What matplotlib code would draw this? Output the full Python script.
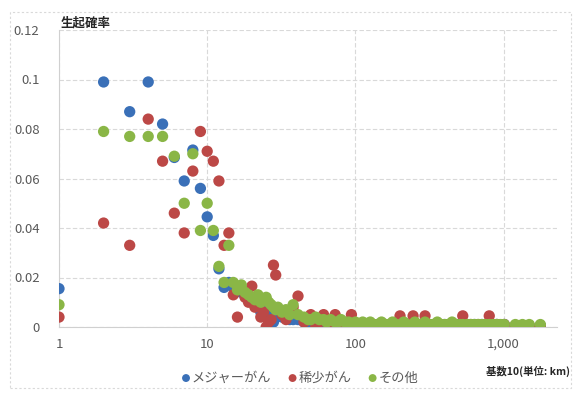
import matplotlib
matplotlib.use("Agg")
from matplotlib import pyplot as plt
from matplotlib.patches import Rectangle
from matplotlib.ticker import FixedLocator, FuncFormatter, NullLocator

plt.rcParams['font.family'] = ['Noto Sans CJK JP', 'DejaVu Sans']

# distance (unit: 10 km) for the first points, one per step
head_x = [1, 2, 3, 4, 5, 6, 7, 8, 9, 10, 11, 12, 13, 14]
# distances for the long tail
tail_x = [15, 16, 17, 18, 19, 20, 21, 22, 23, 24, 25, 26, 27, 28, 29, 30,
          32, 34, 36, 38, 41, 45, 48, 50, 54, 57, 61, 64, 68, 73, 76, 80,
          85, 90, 94, 100, 106, 112, 119, 126, 133, 141, 150, 159, 168, 178,
          189, 200, 212, 224, 245, 252, 267, 283, 295, 318, 337, 357, 378,
          400, 424, 449, 476, 504, 530, 566, 600, 636, 674, 714, 756, 800,
          849, 900, 953, 1010, 1200, 1340, 1490, 1770]

major_head = [0.0155, 0.099, 0.087, 0.099, 0.082, 0.0685, 0.059, 0.0715,
              0.056, 0.0445, 0.037, 0.0235, 0.016, 0.018]
major_tail = [0.016, 0.015, 0.014, 0.013, 0.012, 0.011, 0.010, 0.009, 0.006,
              0.008, 0.007, 0.006, 0.006, 0.002, 0.004, 0.005, 0.004, 0.004,
              0.003, 0.003, 0.003, 0.002, 0.002, 0.002, 0.002, 0.002, 0.001,
              0.001, 0.002, 0.001, 0.001, 0.001, 0.001, 0.001, 0.001, 0.001,
              0.0005, 0.001, 0.0005, 0.001, 0.0005, 0.001, 0.0005, 0.001,
              0.0005, 0.001, 0.0005, 0.001, 0.0005, 0.001, 0.0005, 0.001,
              0.0005, 0.001, 0.0005, 0.001, 0.0005, 0.001, 0.0005, 0.001,
              0.0005, 0.001, 0.0005, 0.001, 0.0005, 0.001, 0.0005, 0.001,
              0.0005, 0.001, 0.0005, 0.001, 0.0005, 0.001, 0.0005, 0.001,
              0.0005, 0.0005, 0.0005, 0.0005]

rare_head = [0.004, 0.042, 0.033, 0.084, 0.067, 0.046, 0.038, 0.063,
             0.079, 0.071, 0.067, 0.059, 0.033, 0.038]
rare_tail = [0.013, 0.004, 0.015, 0.012, 0.010, 0.0165, 0.008, 0.010, 0.004,
             0.006, 0.000, 0.002, 0.003, 0.025, 0.021, 0.007, 0.005, 0.003,
             0.006, 0.008, 0.0125, 0.002, 0.003, 0.005, 0.000, 0.002, 0.005,
             0.002, 0.001, 0.005, 0.001, 0.002, 0.000, 0.001, 0.005, 0.001,
             0.000, 0.001, 0.000, 0.001, 0.000, 0.001, 0.000, 0.001, 0.000,
             0.001, 0.000, 0.0045, 0.001, 0.000, 0.0045, 0.001, 0.000, 0.001,
             0.0045, 0.000, 0.001, 0.000, 0.001, 0.000, 0.001, 0.000, 0.001,
             0.000, 0.0045, 0.000, 0.001, 0.000, 0.001, 0.000, 0.001, 0.0045,
             0.000, 0.001, 0.000, 0.001, 0.0005, 0.0005, 0.0005, 0.0005]

other_head = [0.009, 0.079, 0.077, 0.077, 0.077, 0.069, 0.050, 0.070,
              0.039, 0.050, 0.039, 0.0245, 0.018, 0.033]
other_tail = [0.018, 0.015, 0.017, 0.014, 0.013, 0.012, 0.011, 0.013, 0.010,
              0.011, 0.012, 0.010, 0.009, 0.008, 0.007, 0.008, 0.006, 0.007,
              0.005, 0.009, 0.005, 0.004, 0.003, 0.003, 0.004, 0.003, 0.003,
              0.002, 0.003, 0.002, 0.002, 0.003, 0.002, 0.002, 0.001, 0.002,
              0.001, 0.002, 0.001, 0.002, 0.001, 0.001, 0.002, 0.001, 0.001,
              0.002, 0.001, 0.001, 0.002, 0.001, 0.001, 0.002, 0.001, 0.001,
              0.002, 0.001, 0.001, 0.002, 0.001, 0.001, 0.001, 0.002, 0.001,
              0.001, 0.001, 0.001, 0.001, 0.001, 0.001, 0.001, 0.001, 0.001,
              0.001, 0.001, 0.001, 0.001, 0.001, 0.001, 0.001, 0.001]

series_names = ["メジャーがん", "稀少がん", "その他"]
series_colors = ["#3A70B8", "#BC4846", "#8AB646"]

x_ticks = [1, 10, 100, 1000]
y_ticks = [0, 0.02, 0.04, 0.06, 0.08, 0.1, 0.12]


def tick_text(v, pos=None):
    if v == 0:
        return "0"
    return f"{v:g}"


fig = plt.figure(figsize=(5.76, 4.0), dpi=100)
ax = fig.add_axes([0.1024, 0.1825, 0.8650, 0.7425])

x_all = head_x + tail_x
for name, color, yh, yt in zip(series_names, series_colors,
                               [major_head, rare_head, other_head],
                               [major_tail, rare_tail, other_tail]):
    ax.scatter(x_all, yh + yt, s=66, c=color, label=name,
               edgecolors='none', zorder=3)

ax.set_xscale('log')
ax.set_xlim(1, 2300)
ax.set_ylim(0, 0.12)
ax.xaxis.set_major_locator(FixedLocator(x_ticks))
ax.xaxis.set_minor_locator(NullLocator())
ax.xaxis.set_major_formatter(FuncFormatter(lambda v, p: f"{int(v):,}"))
ax.set_yticks(y_ticks)
ax.yaxis.set_major_formatter(FuncFormatter(tick_text))

ax.grid(True, which='major', color='#D9D9D9', linestyle=(0, (4, 2)),
        linewidth=0.8, zorder=0)
ax.set_axisbelow(True)
for side in ['top', 'right']:
    ax.spines[side].set_visible(False)
for side in ['left', 'bottom']:
    ax.spines[side].set_color('#D0D0D0')
    ax.spines[side].set_linewidth(0.8)
ax.tick_params(length=0, labelsize=9.5, labelcolor='#595959', pad=8)
ax.tick_params(axis='y', pad=14)

fig.text(0.106, 0.943, "生起確率", fontsize=9, color='#262626',
         ha='left', va='center', fontweight='bold')
fig.text(0.99, 0.072, "基数10(単位: km)", fontsize=7.5, color='#262626',
         ha='right', va='center', fontweight='bold')

ax.legend(loc='center', bbox_to_anchor=(0.52, 0.055),
          bbox_transform=fig.transFigure, ncol=3, frameon=False,
          fontsize=9.5, labelcolor='#595959', handletextpad=0.05,
          columnspacing=1.2, markerscale=0.7, handlelength=0.8)

fig.patches.append(Rectangle((0.017, 0.03), 0.975, 0.94,
                             transform=fig.transFigure, fill=False,
                             edgecolor='#D9D9D9', linestyle=(0, (2, 2)),
                             linewidth=0.8))

fig.savefig("out.png", dpi=100)
